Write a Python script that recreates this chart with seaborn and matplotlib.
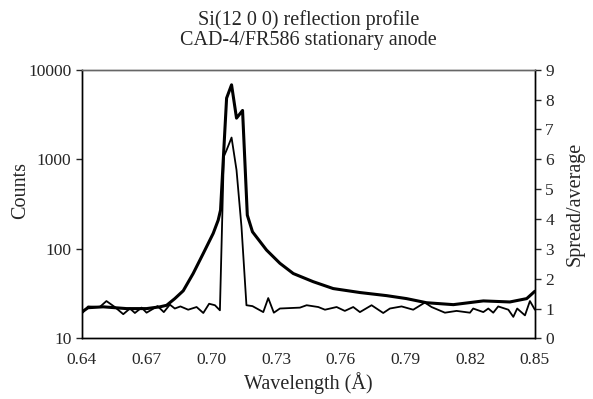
import numpy as np
import pandas as pd
import seaborn as sns
import matplotlib.pyplot as plt

# --- DATA ---
counts_wl = [0.640, 0.6429, 0.6499, 0.6607, 0.670, 0.6762, 0.6793, 0.6831, 0.687, 0.6916,
             0.6963, 0.7009, 0.7032, 0.7043, 0.7071, 0.7094, 0.7117, 0.7145, 0.7167, 0.7191,
             0.7256, 0.7318, 0.738, 0.7472, 0.7565, 0.7689, 0.7813, 0.7905, 0.7998, 0.8122,
             0.8261, 0.8384, 0.8462, 0.850]
counts = [19.7, 22, 22.5, 21.5, 21.5, 22.5, 23.4, 27.8, 34, 53,
          89, 149, 209, 271, 4830, 6800, 2885, 3515, 238, 155,
          97, 69, 53, 43, 36, 32.5, 30, 27.8, 25, 23.8,
          26.2, 25.5, 27.8, 33.6]

spread_wl = [0.640, 0.6429, 0.6483, 0.6514, 0.6553, 0.6592, 0.6623, 0.6646, 0.6677, 0.670,
             0.6751, 0.678, 0.6808, 0.6831, 0.6857, 0.6893, 0.6932, 0.6963, 0.699, 0.7017,
             0.704, 0.7058, 0.7071, 0.7094, 0.7117, 0.714, 0.7163, 0.7191, 0.7241, 0.7264,
             0.729, 0.7318, 0.7411, 0.7442, 0.7496, 0.7527, 0.7581, 0.7619, 0.7658, 0.7689,
             0.7743, 0.7797, 0.7828, 0.7882, 0.7936, 0.799, 0.8021, 0.8083, 0.8137, 0.8199,
             0.8214, 0.8261, 0.8284, 0.8307, 0.833, 0.8377, 0.840, 0.8418, 0.8454, 0.8477,
             0.850]
spread = [0.83, 1.07, 1.05, 1.25, 1.05, 0.81, 1.0, 0.85, 1.03, 0.86,
          1.08, 0.88, 1.13, 1.0, 1.07, 0.96, 1.05, 0.85, 1.16, 1.11,
          0.94, 6.09, 6.31, 6.73, 5.64, 3.74, 1.11, 1.08, 0.88, 1.35,
          0.86, 1.0, 1.03, 1.11, 1.05, 0.96, 1.05, 0.92, 1.05, 0.88,
          1.11, 0.85, 1.0, 1.07, 0.96, 1.2, 1.05, 0.86, 0.92, 0.86,
          1.0, 0.88, 1.0, 0.86, 1.07, 0.96, 0.72, 1.0, 0.77, 1.25,
          0.96]

x_ticks = [0.64, 0.67, 0.70, 0.73, 0.76, 0.79, 0.82, 0.85]

# --- STYLE ---
sns.set_style("white")
plt.rcParams['font.family'] = ['Liberation Serif', 'DejaVu Serif']

fig, ax = plt.subplots(figsize=(5.93, 3.99), dpi=100)
fig.subplots_adjust(left=0.138, right=0.902, top=0.825, bottom=0.152)

df_c = pd.DataFrame({'wl': counts_wl, 'counts': counts})
df_s = pd.DataFrame({'wl': spread_wl, 'spread': spread})

sns.lineplot(data=df_c, x='wl', y='counts', ax=ax, color='black', linewidth=2.2)
ax.set_yscale('log')
ax.set_ylim(10, 10000)
ax.set_xlim(0.64, 0.85)
ax.set_xticks(x_ticks)
ax.set_xticklabels([f"{t:.2f}" for t in x_ticks])
ax.set_yticks([10, 100, 1000, 10000])
ax.set_yticklabels(['10', '100', '1000', '10000'])
ax.minorticks_off()

ax2 = ax.twinx()
sns.lineplot(data=df_s, x='wl', y='spread', ax=ax2, color='black', linewidth=1.3)
ax2.set_ylim(0, 9)
ax2.set_yticks(range(0, 10))

lab_fs = 14.5
ax.set_xlabel('Wavelength (Å)', fontsize=lab_fs, labelpad=3)
ax.set_ylabel('Counts', fontsize=lab_fs, labelpad=6)
ax.yaxis.set_label_coords(-0.115, 0.55)
ax2.set_ylabel('Spread/average', fontsize=lab_fs, labelpad=8)
ax.set_title('Si(12 0 0) reflection profile\nCAD-4/FR586 stationary anode',
             fontsize=lab_fs, linespacing=1.05, pad=18)

for a in (ax, ax2):
    for side in ('left', 'right', 'bottom'):
        a.spines[side].set_color('black')
        a.spines[side].set_linewidth(1.0)
    a.spines['top'].set_color('#666666')
    a.spines['top'].set_linewidth(1.0)

ax.tick_params(axis='x', direction='inout', length=8, width=1, labelsize=12.5, pad=6)
ax.tick_params(axis='y', direction='out', length=4, width=1, labelsize=12.5, left=True)
ax2.tick_params(axis='y', direction='out', length=4, width=1, labelsize=12.5, right=True)

plt.savefig('out.png', dpi=100)
